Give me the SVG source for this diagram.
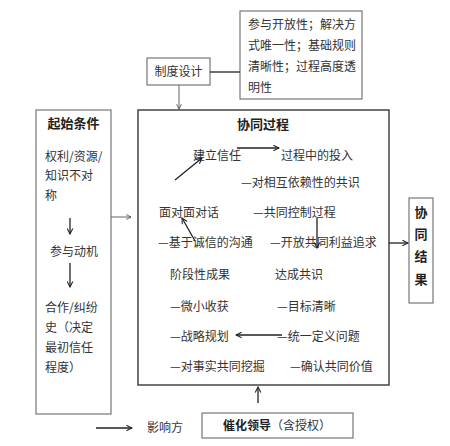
<svg xmlns="http://www.w3.org/2000/svg" width="450" height="446" viewBox="0 0 450 446">
<defs>
<style>
text{font-family:"Noto Sans CJK SC","Noto Sans",sans-serif;font-size:12px;fill:#333}
.b{font-weight:bold;fill:#222}
.t{font-size:13px}
.box{fill:#fff;stroke:#777;stroke-width:1.2}
.main{fill:#fff;stroke:#444;stroke-width:1.5}
.ln{stroke:#222;stroke-width:1.3;fill:none}
.lg{stroke:#666;stroke-width:1;fill:none}
</style>
<marker id="ah" viewBox="0 0 10 10" refX="9" refY="5" markerWidth="7" markerHeight="7" orient="auto" markerUnits="userSpaceOnUse">
<path d="M1,1 L9,5 L1,9" fill="none" stroke="#222" stroke-width="1.5"/>
</marker>
<marker id="ahs" viewBox="0 0 10 10" refX="9" refY="5" markerWidth="6" markerHeight="6" orient="auto" markerUnits="userSpaceOnUse">
<path d="M1,1 L9,5 L1,9" fill="none" stroke="#555" stroke-width="1.5"/>
</marker>
</defs>
<rect width="450" height="446" fill="#fff"/>

<g id="rules">
<rect class="box" x="240" y="11" width="122" height="88"/>
<text x="248" y="29">参与开放性；解决方</text>
<text x="248" y="50">式唯一性；基础规则</text>
<text x="248" y="71">清晰性；过程高度透</text>
<text x="248" y="92">明性</text>
</g>

<g id="design">
<rect class="box" x="147" y="58" width="63" height="27"/>
<text x="178.5" y="76" text-anchor="middle">制度设计</text>
</g>

<g id="start">
<rect class="box" x="36" y="110" width="75" height="304"/>
<text class="b t" x="73.5" y="128" text-anchor="middle">起始条件</text>
<text x="45" y="161">权利/资源/</text>
<text x="45" y="180">知识不对</text>
<text x="45" y="200">称</text>
<text x="74" y="256" text-anchor="middle">参与动机</text>
<text x="45" y="312">合作/纠纷</text>
<text x="45" y="332">史（决定</text>
<text x="45" y="352">最初信任</text>
<text x="45" y="372">程度）</text>
</g>

<g id="process">
<rect class="main" x="138" y="110" width="251" height="275"/>
<text class="b t" x="263" y="129" text-anchor="middle">协同过程</text>
<text x="193" y="160">建立信任</text>
<text x="281" y="160">过程中的投入</text>
<text x="241" y="187">—对相互依赖性的共识</text>
<text x="159" y="217">面对面对话</text>
<text x="253" y="217">—共同控制过程</text>
<text x="158" y="247">—基于诚信的沟通</text>
<text x="270" y="247">—开放共同利益追求</text>
<text x="170" y="279">阶段性成果</text>
<text x="275" y="279">达成共识</text>
<text x="170" y="311">—微小收获</text>
<text x="277" y="311">—目标清晰</text>
<text x="170" y="341">—战略规划</text>
<text x="277" y="341">—统一定义问题</text>
<text x="170" y="371">—对事实共同挖掘</text>
<text x="290" y="371">—确认共同价值</text>
</g>

<g id="result">
<rect class="box" x="409" y="198" width="24" height="105"/>
<text class="b t" x="421" y="217" text-anchor="middle">协</text>
<text class="b t" x="421" y="239" text-anchor="middle">同</text>
<text class="b t" x="421" y="261" text-anchor="middle">结</text>
<text class="b t" x="421" y="284" text-anchor="middle">果</text>
</g>

<g id="leader">
<rect class="box" x="202" y="413" width="151" height="25"/>
<text x="223" y="430"><tspan class="b">催化领导</tspan>（含授权）</text>
</g>

<g id="legend">
<text x="147" y="432">影响方</text>
</g>

<g id="connectors">
<line class="ln" x1="210" y1="72" x2="240" y2="72"/>
<line class="lg" x1="179" y1="85" x2="179" y2="109" marker-end="url(#ahs)"/>
<line class="lg" x1="111" y1="217" x2="131" y2="217" marker-end="url(#ahs)"/>
<line class="ln" x1="70" y1="218" x2="70" y2="234" marker-end="url(#ah)"/>
<line class="ln" x1="70" y1="263" x2="70" y2="287" marker-end="url(#ah)"/>
<line class="ln" x1="237" y1="148" x2="279" y2="148" marker-end="url(#ah)"/>
<line class="ln" x1="175" y1="180" x2="202" y2="158" marker-end="url(#ah)"/>
<line class="ln" x1="195" y1="241" x2="182" y2="218" marker-end="url(#ah)"/>
<line class="ln" x1="317" y1="218" x2="317" y2="248" marker-end="url(#ah)"/>
<line class="ln" x1="282" y1="335" x2="236" y2="335" marker-end="url(#ah)"/>
<line class="ln" x1="389" y1="243" x2="408" y2="243" marker-end="url(#ah)"/>
<line class="ln" x1="258" y1="403" x2="258" y2="387" marker-end="url(#ah)"/>
<line class="ln" x1="96" y1="428" x2="132" y2="428" marker-end="url(#ah)"/>
</g>
</svg>
